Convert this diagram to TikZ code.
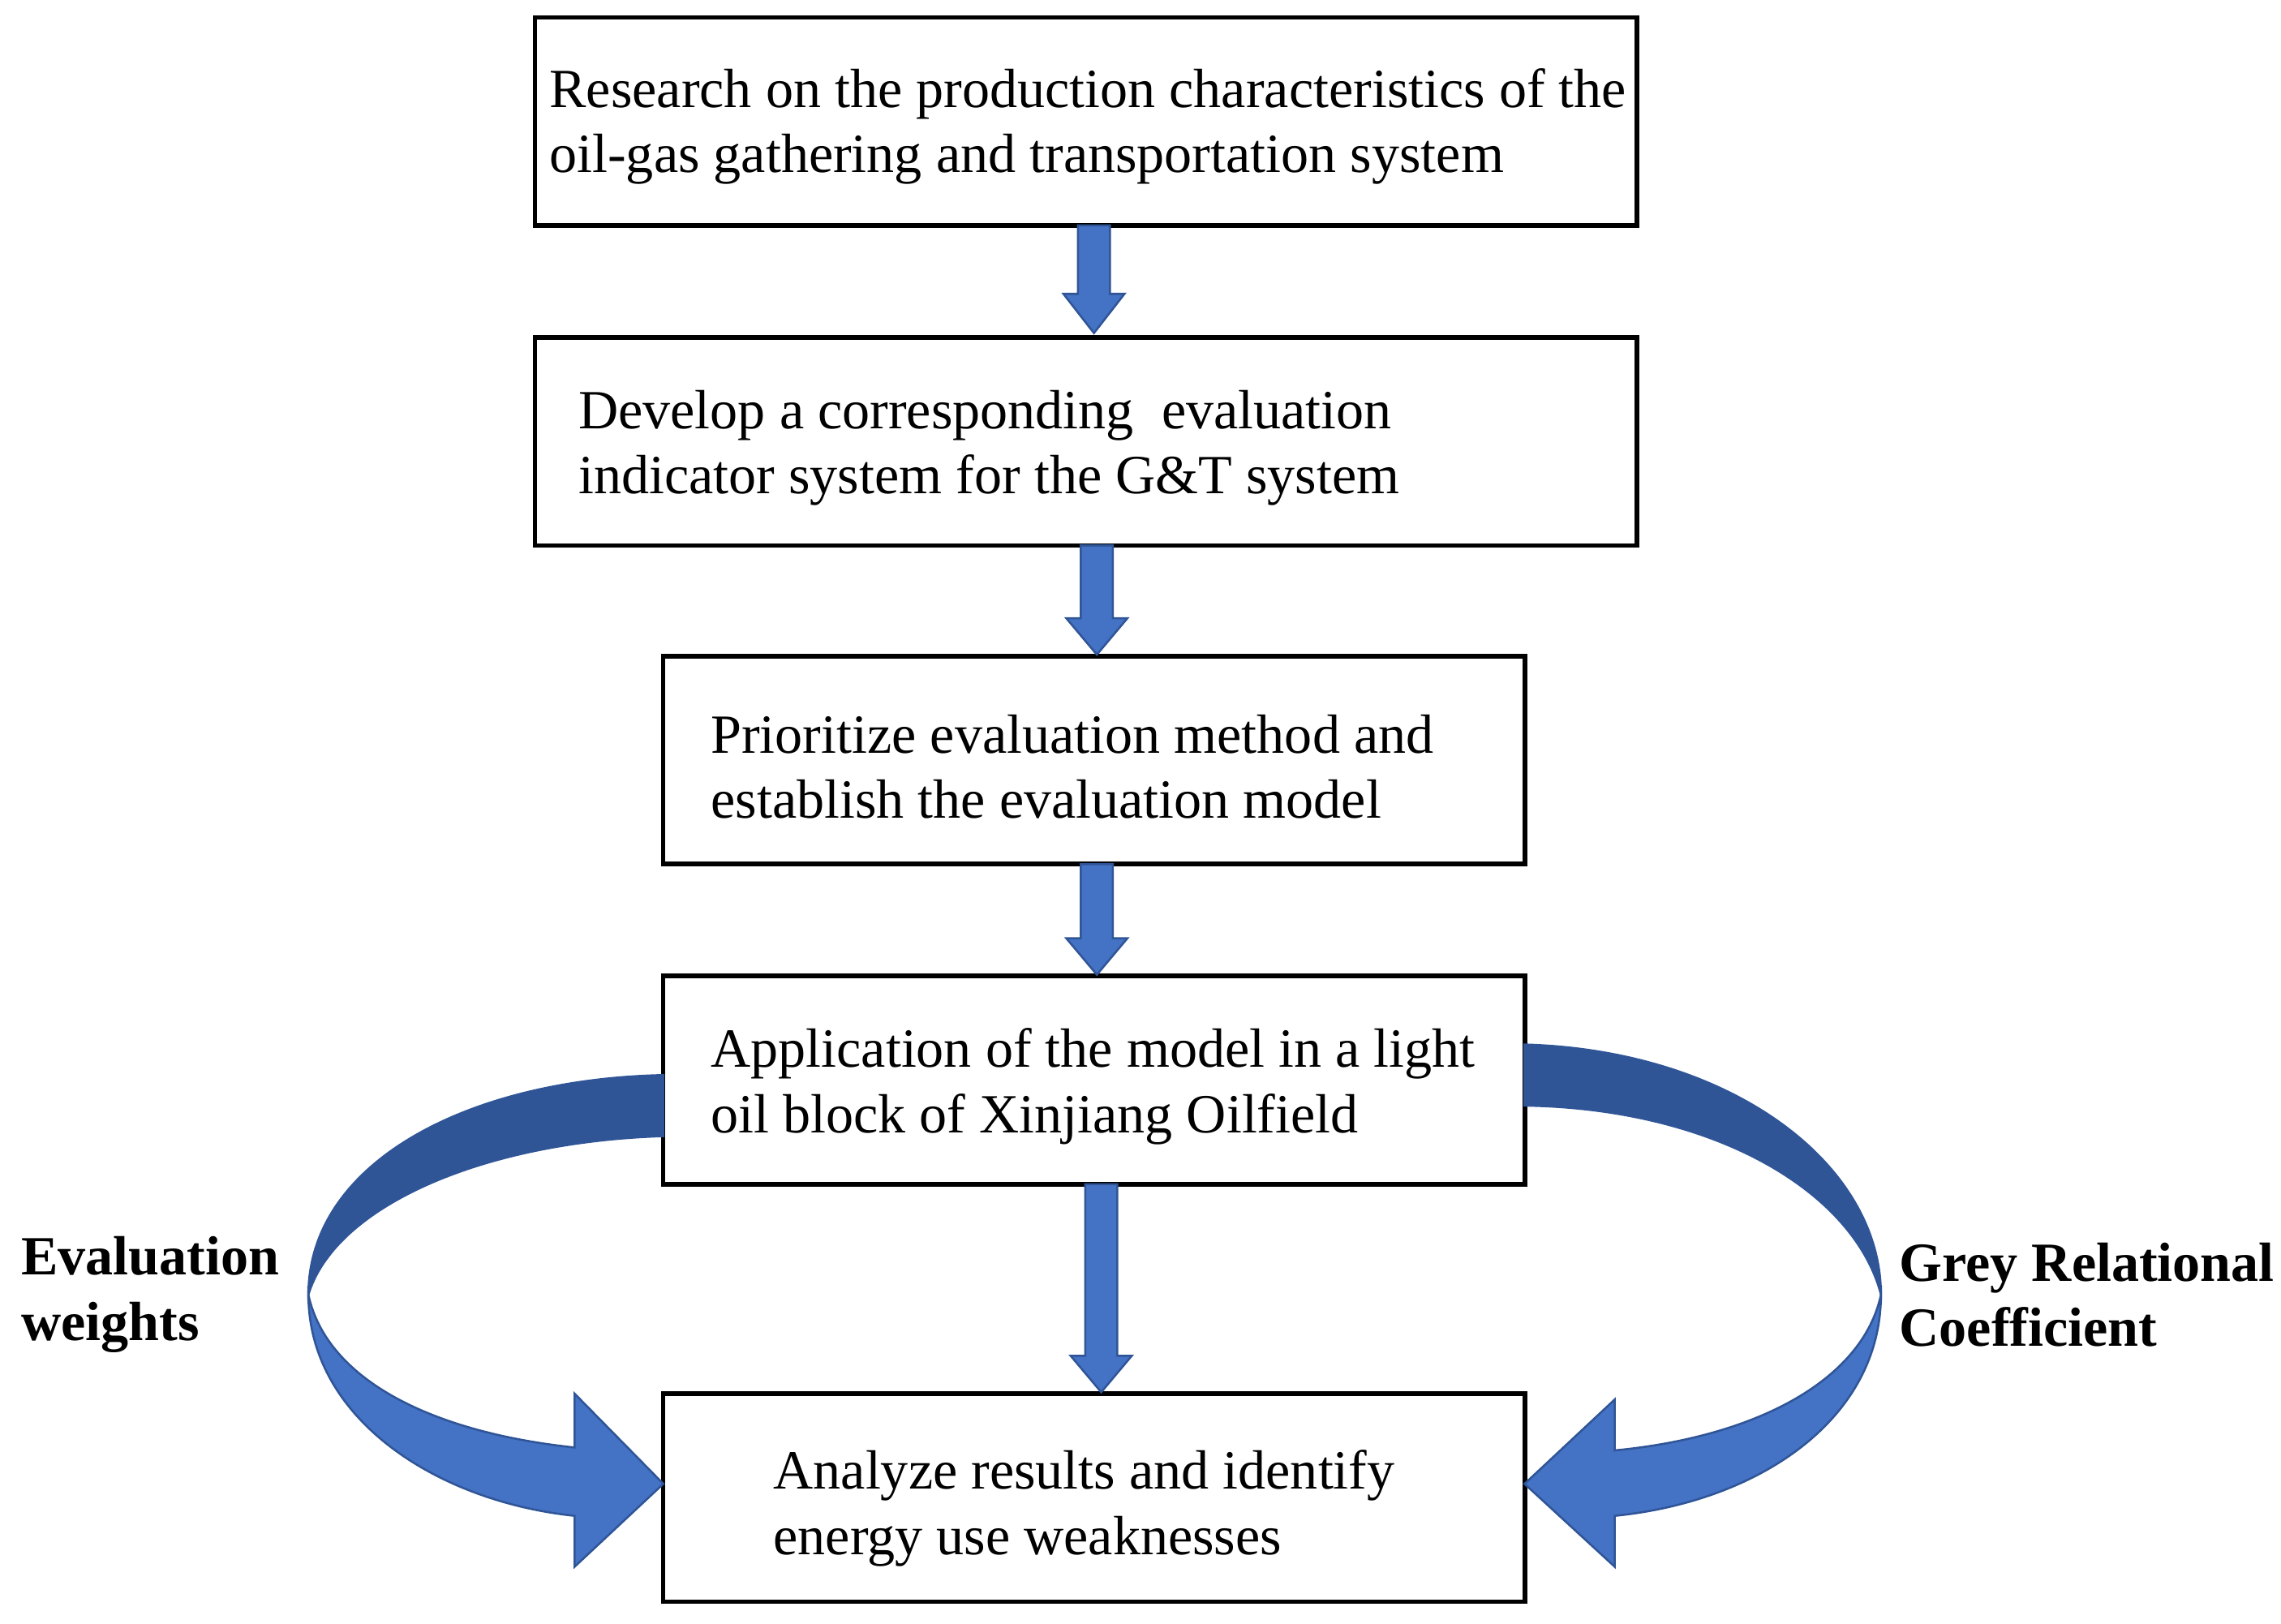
\documentclass[tikz,border=0pt]{standalone}
\usepackage{fontspec}
\setmainfont{Liberation Serif}
\begin{document}
\begin{tikzpicture}[x=0.01cm,y=-0.01cm,
 box/.style={draw,line width=0.9pt,inner sep=0pt,outer sep=0pt},
 txt/.style={anchor=west,align=left,inner sep=0pt,font=\fontsize{10.8}{12.8}\selectfont},
 lab/.style={anchor=west,align=left,inner sep=0pt,font=\bfseries\fontsize{10.8}{12.8}\selectfont},
 blu/.style={fill=blue1,draw=blue2,line width=0.4pt},
 dk/.style={fill=blue2,draw=blue2,line width=0.4pt}]
\definecolor{blue1}{HTML}{4472C4}
\definecolor{blue2}{HTML}{2F5597}
\useasboundingbox (0,0) rectangle (1568,1116);
\node[box,minimum width=7.57cm,minimum height=1.43cm] (b1) at (746.5,83.5) {};
\node[box,minimum width=7.57cm,minimum height=1.43cm] (b2) at (746.5,303.5) {};
\node[box,minimum width=5.92cm,minimum height=1.43cm] (b3) at (752,522.5) {};
\node[box,minimum width=5.92cm,minimum height=1.43cm] (b4) at (752,742.5) {};
\node[box,minimum width=5.92cm,minimum height=1.43cm] (b5) at (752,1029.5) {};
\node[txt] (t1) at (377,87) {Research on the production characteristics of the\\oil-gas gathering and transportation system};
\node[txt] (t2) at (397,308) {Develop a corresponding\ \ evaluation\\indicator system for the G\&T system};
\node[txt] (t3) at (488,527) {Prioritize evaluation method and\\establish the evaluation model};
\node[txt] (t4) at (488,747) {Application of the model in a light\\oil block of Xinjiang Oilfield};
\node[txt] (t5) at (531,1037) {Analyze results and identify\\energy use weaknesses};
\node[lab] (l1) at (14,890) {Evaluation\\weights};
\node[lab] (l2) at (1305,890) {Grey Relational\\Coefficient};
\newcommand\darr[4]{\draw[blu] (#1-11,#2) -- (#1+11,#2) -- (#1+11,#3) -- (#1+21,#3) -- (#1,#4) -- (#1-21,#3) -- (#1-11,#3) -- cycle;}
\darr{752}{155}{202}{229}
\darr{754}{375}{425}{450}
\darr{754}{594}{645}{670}
\darr{757}{814}{932}{957}
\draw[dk] (456,739) .. controls (320,742) and (212,800) .. (212,890)
 .. controls (230,830) and (330,785) .. (456,781) -- cycle;
\draw[blu] (212,890) .. controls (212,975) and (300,1032) .. (395,1042)
 -- (395,1077) -- (456,1020) -- (395,958) -- (395,995)
 .. controls (300,985) and (225,950) .. (212,890) -- cycle;
\draw[dk] (1048,718) .. controls (1190,722) and (1293,800) .. (1293,890)
 .. controls (1275,820) and (1180,762) .. (1048,760) -- cycle;
\draw[blu] (1293,890) .. controls (1293,975) and (1210,1032) .. (1110,1042)
 -- (1110,1077) -- (1048,1020) -- (1110,962) -- (1110,997)
 .. controls (1205,988) and (1280,950) .. (1293,890) -- cycle;
\end{tikzpicture}
\end{document}
